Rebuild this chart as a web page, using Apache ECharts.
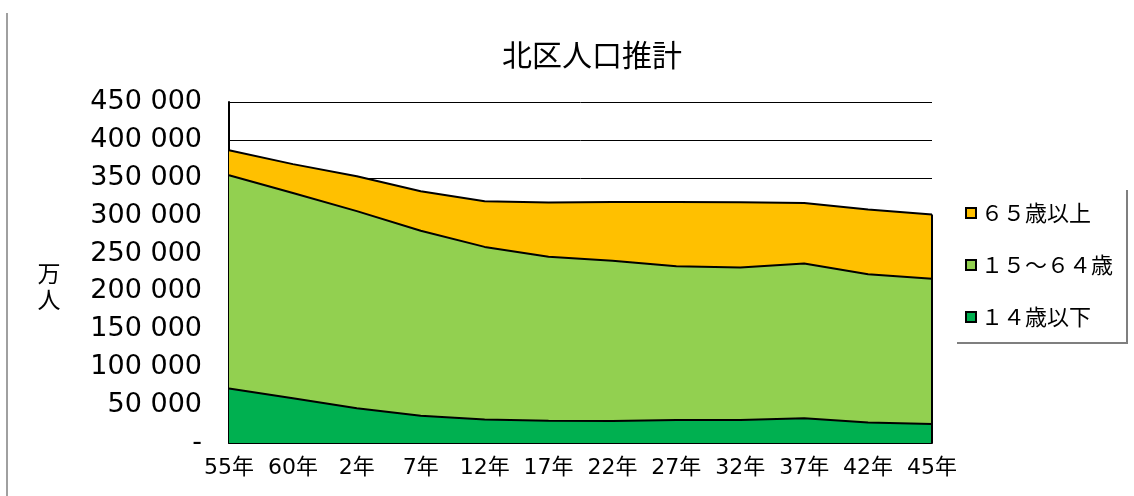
<!DOCTYPE html>
<html>
<head>
<meta charset="utf-8">
<script src="https://cdn.jsdelivr.net/npm/echarts@6/dist/echarts.min.js"></script>
<style>html,body{margin:0;padding:0;background:#fff;}#c{width:1134px;height:496px;}</style>
</head>
<body>
<div id="c"></div>
<script>
const categories = ['55年','60年','2年','7年','12年','17年','22年','27年','32年','37年','42年','45年'];
const age0to14 = [72000, 59000, 46000, 36000, 31000, 29500, 29000, 30500, 30500, 32500, 27000, 25000];
const age15to64 = [281400, 271000, 260000, 244000, 227800, 216200, 211400, 202900, 201100, 204500, 195800, 191600];
const age65plus = [32900, 38000, 46000, 52300, 60300, 71700, 77600, 84600, 86100, 79800, 85200, 84900];
const seriesNames = ['１４歳以下', '１５～６４歳', '６５歳以上'];
const legendOrder = ['６５歳以上', '１５～６４歳', '１４歳以下'];
const titleText = '北区人口推計';
const yAxisName = '万\n人';
const yMax = 450000;
const yStep = 50000;

const lastIdx = categories.length - 1;
const lastTotal = age0to14[lastIdx] + age15to64[lastIdx] + age65plus[lastIdx];

const colors = ['#00B050', '#92D050', '#FFC000'];
const numFont = 'DejaVu Sans, Noto Sans CJK JP, sans-serif';
const cjkFont = 'Noto Sans CJK JP, sans-serif';

function mkSeries(name, data, color, extra) {
  return Object.assign({
    name: name,
    type: 'line',
    stack: 'total',
    data: data,
    symbol: 'none',
    lineStyle: { color: '#000', width: 2 },
    itemStyle: { color: color, borderColor: '#000', borderWidth: 1.5 },
    areaStyle: { color: color, opacity: 1 },
    emphasis: { disabled: true }
  }, extra || {});
}

const chart = echarts.init(document.getElementById('c'));
chart.setOption({
  animation: false,
  backgroundColor: '#fff',
  grid: { left: 229, right: 202, top: 102, bottom: 53, containLabel: false },
  legend: {
    data: legendOrder,
    orient: 'vertical',
    left: 955,
    top: 188,
    icon: 'rect',
    itemWidth: 10,
    itemHeight: 10,
    itemGap: 30,
    padding: [14, 13, 14, 10],
    backgroundColor: '#fff',
    borderWidth: 0,
    shadowColor: '#7f7f7f',
    shadowOffsetX: 2,
    shadowOffsetY: 2,
    shadowBlur: 0,
    textStyle: { fontFamily: cjkFont, fontSize: 22, color: '#000', padding: [0, 0, 0, 0] },
    itemStyle: { borderColor: '#000', borderWidth: 2 }
  },
  xAxis: {
    type: 'category',
    data: categories,
    boundaryGap: false,
    axisLine: { show: true, lineStyle: { color: '#000', width: 2 } },
    axisTick: { show: true, inside: true, length: 5, lineStyle: { color: '#000' } },
    axisLabel: { interval: 0, fontFamily: numFont, fontSize: 22, color: '#000', margin: 14 },
    splitLine: { show: false }
  },
  yAxis: {
    type: 'value',
    min: 0,
    max: yMax,
    interval: yStep,
    axisLine: { show: true, lineStyle: { color: '#000', width: 2 } },
    axisTick: { show: true, inside: true, length: 5, lineStyle: { color: '#000' } },
    axisLabel: {
      fontFamily: numFont, fontSize: 27, color: '#000', margin: 27,
      formatter: function (v) { return v === 0 ? '-' : (v / 1000) + ' 000'; }
    },
    splitLine: { show: true, lineStyle: { color: '#000', width: 1 } }
  },
  series: [
    mkSeries(seriesNames[0], age0to14, colors[0]),
    mkSeries(seriesNames[1], age15to64, colors[1]),
    mkSeries(seriesNames[2], age65plus, colors[2], {
      markLine: {
        silent: true,
        symbol: ['none', 'none'],
        label: { show: false },
        lineStyle: { color: '#000', width: 2, type: 'solid' },
        data: [[{ coord: [categories[lastIdx], 0] }, { coord: [categories[lastIdx], lastTotal] }]]
      }
    })
  ],
  graphic: [
    {
      type: 'text', x: 592, y: 55,
      style: { text: titleText, font: '30px ' + cjkFont, fill: '#000', textAlign: 'center', textVerticalAlign: 'middle' }
    },
    {
      type: 'text', x: 49, y: 286,
      style: { text: yAxisName, font: '23px ' + cjkFont, fill: '#000', textAlign: 'center', textVerticalAlign: 'middle', lineHeight: 26 }
    },
    {
      type: 'line', shape: { x1: 7, y1: 13, x2: 7, y2: 496 },
      style: { stroke: '#808080', lineWidth: 1.5 }
    }
  ]
});
</script>
</body>
</html>
